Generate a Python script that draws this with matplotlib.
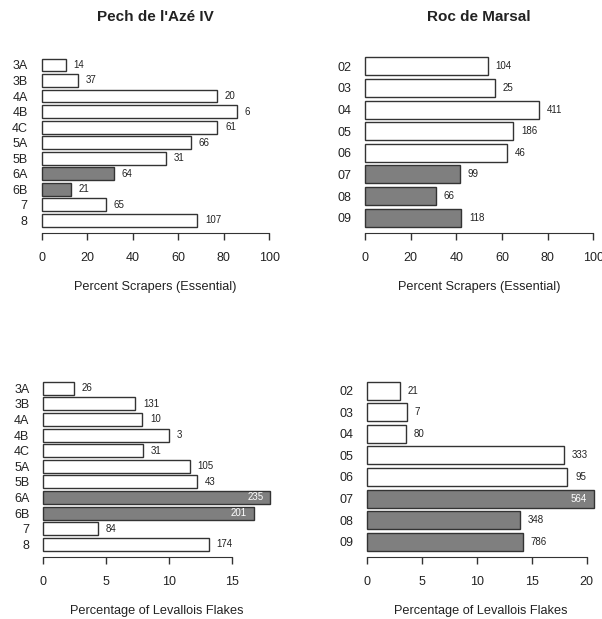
import matplotlib
matplotlib.use("Agg")
import matplotlib.pyplot as plt

plt.rcParams['font.family'] = ['Liberation Sans', 'DejaVu Sans']

# ---- data ----
pech_levels = ["3A", "3B", "4A", "4B", "4C", "5A", "5B", "6A", "6B", "7", "8"]
pech_scrapers = [10.5, 15.8, 77.2, 85.8, 77.2, 65.5, 54.5, 31.8, 13.0, 28.3, 68.4]
pech_scrapers_n = ["14", "37", "20", "6", "61", "66", "31", "64", "21", "65", "107"]
pech_lev = [2.44, 7.33, 7.88, 10.0, 7.96, 11.65, 12.26, 18.08, 16.75, 4.38, 13.17]
pech_lev_n = ["26", "131", "10", "3", "31", "105", "43", "235", "201", "84", "174"]
pech_gray = [False, False, False, False, False, False, False, True, True, False, False]

roc_levels = ["02", "03", "04", "05", "06", "07", "08", "09"]
roc_scrapers = [53.7, 56.8, 76.4, 65.0, 62.3, 41.6, 30.9, 42.2]
roc_scrapers_n = ["104", "25", "411", "186", "46", "99", "66", "118"]
roc_lev = [2.95, 3.65, 3.53, 17.93, 18.24, 20.64, 13.92, 14.16]
roc_lev_n = ["21", "7", "80", "333", "95", "564", "348", "786"]
roc_gray = [False, False, False, False, False, True, True, True]

W, H = 602, 619
fig = plt.figure(figsize=(W / 100, H / 100), dpi=100)


def px_axes(x0, x1, y0, y1):
    return fig.add_axes([x0 / W, 1 - y1 / H, (x1 - x0) / W, (y1 - y0) / H])


def panel(rect, levels, vals, counts, gray, axmax, ticks, xlabel, inside,
          label_y, region_max, title=None):
    x0, x1, y0, y1 = rect
    ppu = (x1 - x0) / axmax
    ext = axmax * 1.25
    xr = x0 + ppu * ext
    ax = px_axes(x0, xr, y0, y1)
    n = len(levels)
    ypos = [i * 1.2 for i in range(n)]
    colors = ["#7f7f7f" if g else "white" for g in gray]
    ax.barh(ypos, vals, height=1.0, color=colors, edgecolor="#333333",
            linewidth=1.0, clip_on=False)
    ax.set_xlim(0, ext)
    ax.set_ylim((n - 1) * 1.2 + 0.5, -0.5)
    for s in ["top", "right", "left"]:
        ax.spines[s].set_visible(False)
    ax.spines["bottom"].set_position(("outward", 4.5))
    ax.spines["bottom"].set_bounds(0, axmax)
    ax.spines["bottom"].set_color("#333333")
    ax.set_xticks(ticks)
    ax.set_xticklabels([str(t) for t in ticks])
    ax.tick_params(axis="x", length=5, width=1, pad=9, labelsize=9,
                   colors="#333333", labelcolor="#222222")
    ax.set_yticks(ypos)
    ax.set_yticklabels(levels)
    ax.tick_params(axis="y", length=0, pad=10, labelsize=9, labelcolor="#222222")
    for i, (v, c) in enumerate(zip(vals, counts)):
        if inside[i]:
            ax.annotate(c, (v, ypos[i]), xytext=(-5, 0), textcoords="offset points",
                        ha="right", va="center", fontsize=7, color="white")
        else:
            ax.annotate(c, (v, ypos[i]), xytext=(5.5, 0), textcoords="offset points",
                        ha="left", va="center", fontsize=7, color="#222222")
    ax.patch.set_visible(False)
    cx = x0 + ppu * region_max / 2
    fig.text(cx / W, 1 - label_y / H, xlabel, ha="center", va="center",
             fontsize=9.2, color="#222222")
    if title:
        fig.text(cx / W, 1 - 17 / H, title, ha="center", va="center",
                 fontsize=11, fontweight="bold", color="#222222")
    return ax


panel((41.7, 269.3, 58.5, 226.7), pech_levels, pech_scrapers, pech_scrapers_n,
      pech_gray, 100, [0, 20, 40, 60, 80, 100], "Percent Scrapers (Essential)",
      [False] * 11, 287, 100, "Pech de l'Azé IV")
panel((365.0, 593.3, 57.3, 226.7), roc_levels, roc_scrapers, roc_scrapers_n,
      roc_gray, 100, [0, 20, 40, 60, 80, 100], "Percent Scrapers (Essential)",
      [False] * 8, 287, 100, "Roc de Marsal")
panel((43.3, 231.7, 381.7, 550.7), pech_levels, pech_lev, pech_lev_n,
      pech_gray, 15, [0, 5, 10, 15], "Percentage of Levallois Flakes",
      [False] * 7 + [True, True] + [False] * 2, 611, max(pech_lev))
panel((367.3, 586.7, 381.7, 550.7), roc_levels, roc_lev, roc_lev_n,
      roc_gray, 20, [0, 5, 10, 15, 20], "Percentage of Levallois Flakes",
      [False] * 5 + [True] + [False] * 2, 611, max(roc_lev))

fig.savefig("out.png", dpi=100)
